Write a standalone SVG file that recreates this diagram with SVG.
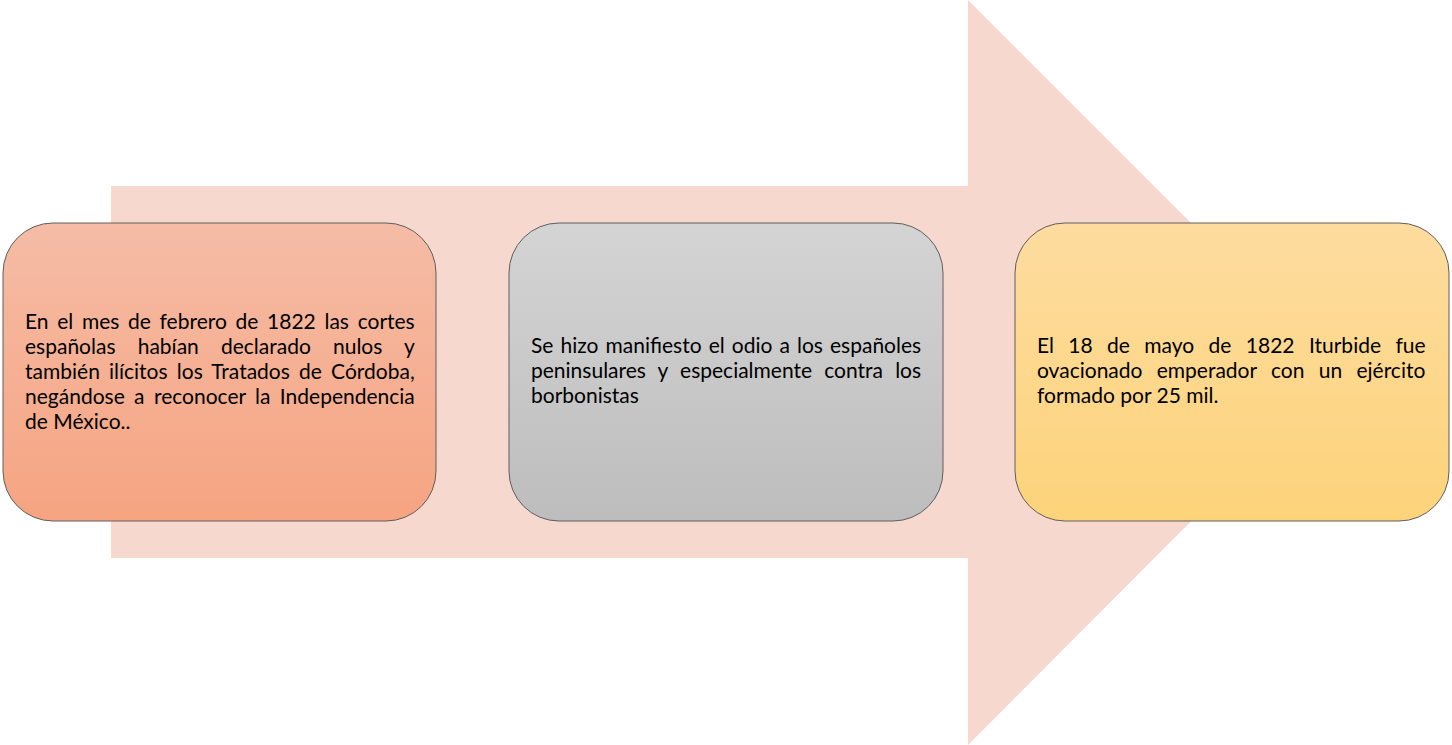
<svg xmlns="http://www.w3.org/2000/svg" width="1452" height="745" viewBox="0 0 1452 745">
<defs>
<linearGradient id="g1" x1="0" y1="0" x2="0" y2="1"><stop offset="0" stop-color="#F5BCA6"/><stop offset="1" stop-color="#F6A481"/></linearGradient>
<linearGradient id="g2" x1="0" y1="0" x2="0" y2="1"><stop offset="0" stop-color="#D4D4D4"/><stop offset="1" stop-color="#BDBDBD"/></linearGradient>
<linearGradient id="g3" x1="0" y1="0" x2="0" y2="1"><stop offset="0" stop-color="#FDDC9F"/><stop offset="1" stop-color="#FDD37A"/></linearGradient>
<style>
.box{stroke:#5E5E5E;stroke-width:1}
.t{font-family:Lato,"Open Sans","Liberation Sans",sans-serif;font-size:21px;fill:#000}
</style>
</defs>
<g id="arrow"><polygon points="111,186 968,186 968,0 1340,372 968,745 968,558 111,558" fill="#F7D8CE"/></g>
<g id="connectors"></g>
<g id="node1">
<rect class="box" x="3" y="223" width="433" height="298" rx="50" fill="url(#g1)"/>
<text class="t"><tspan x="25" y="329" word-spacing="3.3">En el mes de febrero de 1822 las cortes</tspan><tspan x="25" y="354" word-spacing="16.8">españolas habían declarado nulos y</tspan><tspan x="25" y="379" word-spacing="3.8">también ilícitos los Tratados de Córdoba,</tspan><tspan x="25" y="404" word-spacing="4">negándose a reconocer la Independencia</tspan><tspan x="25" y="429">de México..</tspan></text>
</g>
<g id="node2">
<rect class="box" x="509" y="223" width="434" height="298" rx="50" fill="url(#g2)"/>
<text class="t"><tspan x="531" y="353" word-spacing="1.7">Se hizo manifiesto el odio a los españoles</tspan><tspan x="531" y="378" word-spacing="6.8">peninsulares y especialmente contra los</tspan><tspan x="531" y="403">borbonistas</tspan></text>
</g>
<g id="node3">
<rect class="box" x="1015" y="223" width="434" height="298" rx="50" fill="url(#g3)"/>
<text class="t"><tspan x="1037" y="353" word-spacing="9">El 18 de mayo de 1822 Iturbide fue</tspan><tspan x="1037" y="378" word-spacing="8.9">ovacionado emperador con un ejército</tspan><tspan x="1037" y="403">formado por 25 mil.</tspan></text>
</g>
</svg>
